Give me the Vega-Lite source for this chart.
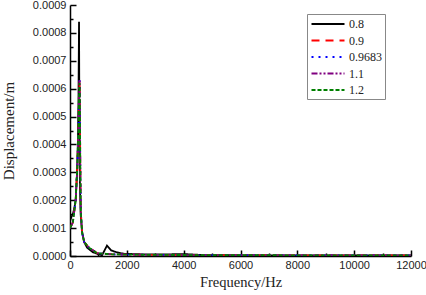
{
  "$schema": "https://vega.github.io/schema/vega-lite/v6.json",
  "width": 341,
  "height": 251,
  "autosize": {"type": "none"},
  "padding": {"left": 70, "top": 5, "right": 15, "bottom": 39},
  "background": "white",
  "config": {
    "view": {"stroke": null},
    "axis": {
      "grid": false,
      "labelFlush": false,
      "domainColor": "black",
      "domainWidth": 1.5,
      "tickColor": "black",
      "tickWidth": 1.5,
      "labelFont": "Liberation Sans",
      "labelFontSize": 11,
      "labelColor": "#222",
      "titleFont": "Liberation Serif",
      "titleFontSize": 14.5,
      "titleFontWeight": "normal",
      "titleColor": "#222"
    }
  },
  "data": {"values": [
    {"f":0,"d":0.000125,"s":"0.8"},{"f":50,"d":0.00014,"s":"0.8"},{"f":100,"d":0.00015,"s":"0.8"},{"f":150,"d":0.00017,"s":"0.8"},{"f":200,"d":0.0002,"s":"0.8"},{"f":250,"d":0.0003,"s":"0.8"},{"f":280,"d":0.00042,"s":"0.8"},{"f":300,"d":0.00058,"s":"0.8"},{"f":310,"d":0.00073,"s":"0.8"},{"f":318,"d":0.00084,"s":"0.8"},{"f":326,"d":0.0006,"s":"0.8"},{"f":335,"d":0.0004,"s":"0.8"},{"f":350,"d":0.00025,"s":"0.8"},{"f":375,"d":0.00015,"s":"0.8"},{"f":420,"d":0.00009,"s":"0.8"},{"f":500,"d":0.00005,"s":"0.8"},{"f":600,"d":0.00003,"s":"0.8"},{"f":800,"d":0.000014,"s":"0.8"},{"f":1000,"d":0.000006,"s":"0.8"},{"f":1130,"d":0.000003,"s":"0.8"},{"f":1300,"d":0.000037,"s":"0.8"},{"f":1450,"d":0.00002,"s":"0.8"},{"f":1650,"d":0.000013,"s":"0.8"},{"f":1900,"d":0.000008,"s":"0.8"},{"f":2500,"d":0.000006,"s":"0.8"},{"f":3500,"d":0.000006,"s":"0.8"},{"f":4000,"d":0.000007,"s":"0.8"},{"f":4400,"d":0.000005,"s":"0.8"},{"f":4700,"d":0.000003,"s":"0.8"},{"f":6000,"d":0.0000025,"s":"0.8"},{"f":8000,"d":0.000002,"s":"0.8"},{"f":12000,"d":0.000002,"s":"0.8"},

    {"f":0,"d":0.0001,"s":"0.9"},{"f":100,"d":0.00012,"s":"0.9"},{"f":200,"d":0.0002,"s":"0.9"},{"f":257,"d":0.00032,"s":"0.9"},{"f":292,"d":0.00044,"s":"0.9"},{"f":317,"d":0.00056,"s":"0.9"},{"f":335,"d":0.00063,"s":"0.9"},{"f":345,"d":0.0006,"s":"0.9"},{"f":360,"d":0.00035,"s":"0.9"},{"f":380,"d":0.00016,"s":"0.9"},{"f":430,"d":0.00008,"s":"0.9"},{"f":500,"d":0.00005,"s":"0.9"},{"f":670,"d":0.00003,"s":"0.9"},{"f":960,"d":0.00001,"s":"0.9"},{"f":1500,"d":0.000006,"s":"0.9"},{"f":2000,"d":0.000005,"s":"0.9"},{"f":3000,"d":0.000004,"s":"0.9"},{"f":4000,"d":0.0000035,"s":"0.9"},{"f":5000,"d":0.000003,"s":"0.9"},{"f":8000,"d":0.0000025,"s":"0.9"},{"f":12000,"d":0.000002,"s":"0.9"},

    {"f":0,"d":0.0001,"s":"0.9683"},{"f":100,"d":0.00012,"s":"0.9683"},{"f":200,"d":0.0002,"s":"0.9683"},{"f":257,"d":0.00032,"s":"0.9683"},{"f":292,"d":0.00044,"s":"0.9683"},{"f":317,"d":0.00056,"s":"0.9683"},{"f":335,"d":0.00064,"s":"0.9683"},{"f":345,"d":0.0006,"s":"0.9683"},{"f":360,"d":0.00035,"s":"0.9683"},{"f":380,"d":0.00016,"s":"0.9683"},{"f":430,"d":0.00008,"s":"0.9683"},{"f":500,"d":0.00005,"s":"0.9683"},{"f":670,"d":0.00003,"s":"0.9683"},{"f":960,"d":0.00001,"s":"0.9683"},{"f":1500,"d":0.000006,"s":"0.9683"},{"f":2000,"d":0.000005,"s":"0.9683"},{"f":3000,"d":0.000004,"s":"0.9683"},{"f":4000,"d":0.0000035,"s":"0.9683"},{"f":5000,"d":0.000003,"s":"0.9683"},{"f":8000,"d":0.0000025,"s":"0.9683"},{"f":12000,"d":0.000002,"s":"0.9683"},

    {"f":0,"d":0.0001,"s":"1.1"},{"f":100,"d":0.00012,"s":"1.1"},{"f":200,"d":0.0002,"s":"1.1"},{"f":257,"d":0.00032,"s":"1.1"},{"f":292,"d":0.00044,"s":"1.1"},{"f":317,"d":0.00056,"s":"1.1"},{"f":335,"d":0.00063,"s":"1.1"},{"f":345,"d":0.0006,"s":"1.1"},{"f":360,"d":0.00035,"s":"1.1"},{"f":380,"d":0.00016,"s":"1.1"},{"f":430,"d":0.00008,"s":"1.1"},{"f":500,"d":0.00005,"s":"1.1"},{"f":670,"d":0.00003,"s":"1.1"},{"f":960,"d":0.00001,"s":"1.1"},{"f":1500,"d":0.000006,"s":"1.1"},{"f":2000,"d":0.000005,"s":"1.1"},{"f":3000,"d":0.000004,"s":"1.1"},{"f":4000,"d":0.0000035,"s":"1.1"},{"f":5000,"d":0.000003,"s":"1.1"},{"f":8000,"d":0.0000025,"s":"1.1"},{"f":12000,"d":0.000002,"s":"1.1"},

    {"f":0,"d":0.0001,"s":"1.2"},{"f":100,"d":0.00012,"s":"1.2"},{"f":200,"d":0.0002,"s":"1.2"},{"f":257,"d":0.00032,"s":"1.2"},{"f":292,"d":0.00044,"s":"1.2"},{"f":317,"d":0.00056,"s":"1.2"},{"f":335,"d":0.00062,"s":"1.2"},{"f":345,"d":0.00059,"s":"1.2"},{"f":360,"d":0.00035,"s":"1.2"},{"f":380,"d":0.00016,"s":"1.2"},{"f":430,"d":0.00008,"s":"1.2"},{"f":500,"d":0.00005,"s":"1.2"},{"f":670,"d":0.00003,"s":"1.2"},{"f":960,"d":0.00001,"s":"1.2"},{"f":1500,"d":0.000006,"s":"1.2"},{"f":2000,"d":0.000005,"s":"1.2"},{"f":3000,"d":0.000004,"s":"1.2"},{"f":4000,"d":0.0000035,"s":"1.2"},{"f":5000,"d":0.000003,"s":"1.2"},{"f":8000,"d":0.0000025,"s":"1.2"},{"f":12000,"d":0.000002,"s":"1.2"}
  ]},
  "mark": {"type": "line", "strokeWidth": 1.8, "clip": true},
  "encoding": {
    "x": {
      "field": "f", "type": "quantitative",
      "scale": {"domain": [0, 12000], "nice": false},
      "axis": {
        "title": "Frequency/Hz",
        "values": [0,1000,2000,3000,4000,5000,6000,7000,8000,9000,10000,11000,12000],
        "format": "d",
        "labelExpr": "datum.value % 2000 === 0 ? datum.label : ''",
        "tickSize": {"condition": {"test": "datum.value % 2000 === 0", "value": -6}, "value": -3},
        "labelPadding": 9,
        "titlePadding": 5,
        "encode": {"labels": {"update": {"dy": {"value": 3}}}}
      }
    },
    "y": {
      "field": "d", "type": "quantitative",
      "scale": {"domain": [0, 0.0009], "nice": false},
      "axis": {
        "title": "Displacement/m",
        "values": [0,0.00005,0.0001,0.00015,0.0002,0.00025,0.0003,0.00035,0.0004,0.00045,0.0005,0.00055,0.0006,0.00065,0.0007,0.00075,0.0008,0.00085,0.0009],
        "format": ".4f",
        "labelExpr": "round(datum.value * 100000) % 10 === 0 ? datum.label : ''",
        "tickSize": {"condition": {"test": "round(datum.value * 100000) % 10 === 0", "value": -6}, "value": -3},
        "labelPadding": 10,
        "titleFontSize": 15,
        "titlePadding": 16,
        "encode": {"labels": {"update": {"dx": {"value": -3}}}}
      }
    },
    "color": {
      "field": "s", "type": "nominal",
      "scale": {"domain": ["0.8","0.9","0.9683","1.1","1.2"], "range": ["black","#ff0000","#0000ff","#800080","#008000"]},
      "legend": {
        "title": null,
        "orient": "none",
        "legendX": 237,
        "legendY": 9,
        "strokeColor": "#888",
        "padding": 3,
        "symbolType": "M-2.75,0H2.75",
        "symbolSize": 144,
        "symbolOffset": 11,
        "symbolStrokeWidth": 1.8,
        "labelFont": "Liberation Serif",
        "labelFontSize": 12,
        "labelColor": "#222",
        "labelOffset": 14,
        "rowPadding": 3.5,
        "fillColor": "white"
      }
    },
    "strokeDash": {
      "field": "s", "type": "nominal",
      "scale": {"domain": ["0.8","0.9","0.9683","1.1","1.2"], "range": [[1,0],[8,6],[2,5],[6,2,2,2,2,2],[4,2]]},
      "legend": null
    }
  }
}
